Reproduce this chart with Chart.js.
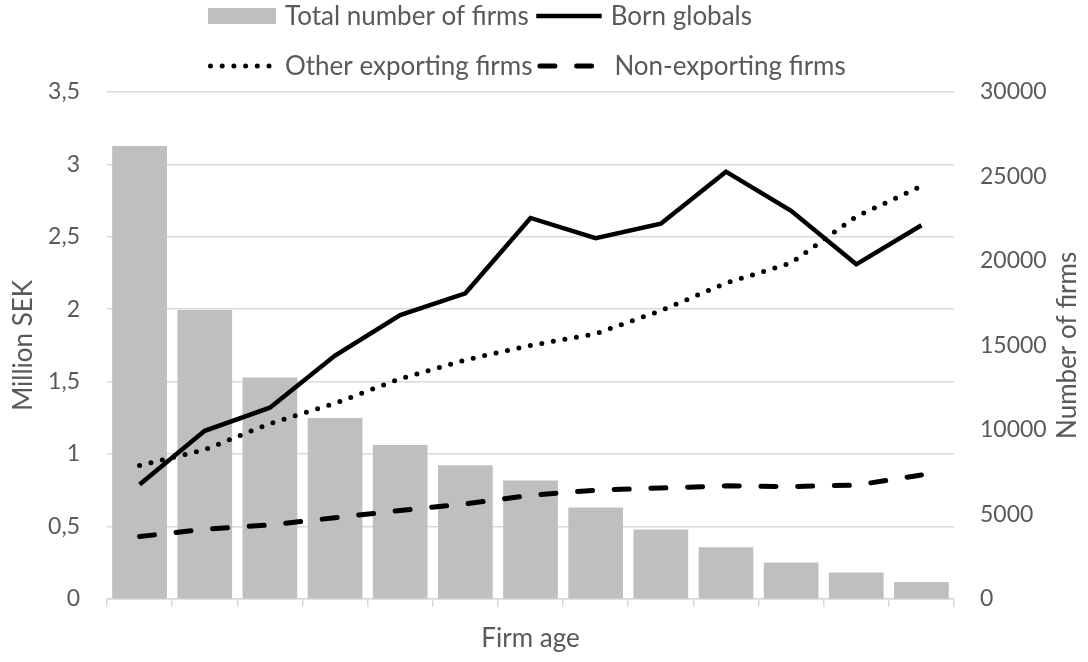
<!DOCTYPE html>
<html>
<head>
<meta charset="utf-8">
<script src="https://cdn.jsdelivr.net/npm/chart.js@4"></script>
<style>
  html, body { margin: 0; padding: 0; background: #fff; }
  #wrap { width: 1088px; height: 662px; }
</style>
</head>
<body>
<div id="wrap"><canvas id="myChart" width="1088" height="662"></canvas></div>
<script>
  // firm age categories (no labels shown on the axis)
  const ages = ['1', '2', '3', '4', '5', '6', '7', '8', '9', '10', '11', '12', '13'];

  // right axis: number of firms
  const totalFirms = [26800, 17100, 13100, 10700, 9100, 7900, 7000, 5400, 4100, 3050, 2150, 1550, 1000];

  // left axis: million SEK
  const bornGlobals = [0.79, 1.16, 1.32, 1.68, 1.96, 2.11, 2.63, 2.49, 2.59, 2.95, 2.68, 2.31, 2.58];
  const otherExporting = [0.92, 1.03, 1.21, 1.35, 1.52, 1.65, 1.75, 1.83, 1.99, 2.18, 2.32, 2.64, 2.85];
  const nonExporting = [0.43, 0.48, 0.51, 0.56, 0.61, 0.655, 0.715, 0.75, 0.765, 0.78, 0.775, 0.785, 0.855];

  const leftTicks = [0, 0.5, 1, 1.5, 2, 2.5, 3, 3.5];
  const rightTicks = [0, 5000, 10000, 15000, 20000, 25000, 30000];

  const textColor = '#595959';
  const fontFamily = 'Lato';

  // excel style legend: two rows, left aligned
  const legendRows = [[0, 1], [2, 3]];
  const excelLegend = {
    id: 'excelLegend',
    afterDraw(chart) {
      const ctx = chart.ctx;
      ctx.save();
      ctx.font = '26px ' + fontFamily;
      ctx.textBaseline = 'middle';
      legendRows.forEach((row, r) => {
        let x = 208;
        const y = 16 + r * 50;
        row.forEach(i => {
          const ds = chart.data.datasets[i];
          if (ds.type === 'bar') {
            ctx.fillStyle = ds.backgroundColor;
            ctx.fillRect(x, y - 8, 68, 16);
          } else {
            ctx.strokeStyle = ds.borderColor;
            ctx.lineWidth = ds.borderWidth;
            ctx.lineCap = ds.borderCapStyle || 'butt';
            ctx.setLineDash(ds.borderDash || []);
            ctx.beginPath();
            ctx.moveTo(x + 2.5, y);
            ctx.lineTo(x + 68, y);
            ctx.stroke();
            ctx.setLineDash([]);
          }
          x += 68 + 9;
          ctx.fillStyle = textColor;
          ctx.fillText(ds.label, x, y + 1);
          x += ctx.measureText(ds.label).width + 5;
        });
      });
      ctx.restore();
    }
  };

  // right axis title reads bottom to top like the left one
  const rightTitle = {
    id: 'rightTitle',
    afterDraw(chart) {
      const ctx = chart.ctx;
      const a = chart.chartArea;
      ctx.save();
      ctx.translate(1068, (a.top + a.bottom) / 2);
      ctx.rotate(-Math.PI / 2);
      ctx.font = '26px ' + fontFamily;
      ctx.fillStyle = textColor;
      ctx.textAlign = 'center';
      ctx.textBaseline = 'middle';
      ctx.fillText('Number of firms', 0, 0);
      ctx.restore();
    }
  };

  const data = {
    labels: ages,
    datasets: [{
      type: 'bar',
      label: 'Total number of firms',
      data: totalFirms,
      backgroundColor: '#bfbfbf',
      yAxisID: 'y1',
      order: 1,
      categoryPercentage: 1,
      barPercentage: 0.84
    }, {
      type: 'line',
      label: 'Born globals',
      data: bornGlobals,
      borderColor: '#000',
      borderWidth: 4.5,
      pointRadius: 0,
      tension: 0,
      yAxisID: 'y',
      order: 0
    }, {
      type: 'line',
      label: 'Other exporting firms',
      data: otherExporting,
      borderColor: '#000',
      borderWidth: 5,
      borderDash: [0, 11.7],
      borderCapStyle: 'round',
      pointRadius: 0,
      tension: 0,
      yAxisID: 'y',
      order: 0
    }, {
      type: 'line',
      label: 'Non-exporting firms',
      data: nonExporting,
      borderColor: '#000',
      borderWidth: 5,
      borderDash: [15, 21.7],
      borderCapStyle: 'round',
      pointRadius: 0,
      tension: 0,
      yAxisID: 'y',
      order: 0
    }]
  };

  const config = {
    data,
    options: {
      responsive: false,
      animation: false,
      layout: { padding: { top: 92, left: 0, right: 0, bottom: 0 } },
      plugins: {
        legend: { display: false },
        tooltip: { enabled: false }
      },
      scales: {
        x: {
          offset: true,
          grid: {
            offset: true,
            drawOnChartArea: false,
            drawTicks: true,
            tickLength: 8,
            color: '#d9d9d9',
            lineWidth: 1.5
          },
          border: { display: true, color: '#d9d9d9', width: 1.5 },
          ticks: { display: false },
          title: {
            display: true,
            text: 'Firm age',
            color: textColor,
            font: { family: fontFamily, size: 26 },
            padding: { top: 16, bottom: 8 }
          }
        },
        y: {
          position: 'left',
          min: 0,
          max: 3.5,
          afterBuildTicks: s => { s.ticks = leftTicks.map(v => ({ value: v })); },
          afterFit: s => { s.width = 107; },
          grid: { color: '#d9d9d9', lineWidth: 1.5, drawTicks: false },
          border: { display: false },
          ticks: {
            color: textColor,
            font: { family: fontFamily, size: 23 },
            padding: 27,
            callback: v => String(v).replace('.', ',')
          },
          title: {
            display: true,
            text: 'Million SEK',
            color: textColor,
            font: { family: fontFamily, size: 26 },
            padding: { top: 8, bottom: 0 }
          }
        },
        y1: {
          position: 'right',
          min: 0,
          max: 30000,
          afterBuildTicks: s => { s.ticks = rightTicks.map(v => ({ value: v })); },
          afterFit: s => { s.width = 134; },
          grid: { display: false, drawTicks: false },
          border: { display: false },
          ticks: {
            color: textColor,
            font: { family: fontFamily, size: 23 },
            padding: 26,
            callback: v => String(v)
          }
        }
      }
    },
    plugins: [excelLegend, rightTitle]
  };

  var myChart = new Chart(
    document.getElementById('myChart'),
    config
  );
</script>
</body>
</html>
